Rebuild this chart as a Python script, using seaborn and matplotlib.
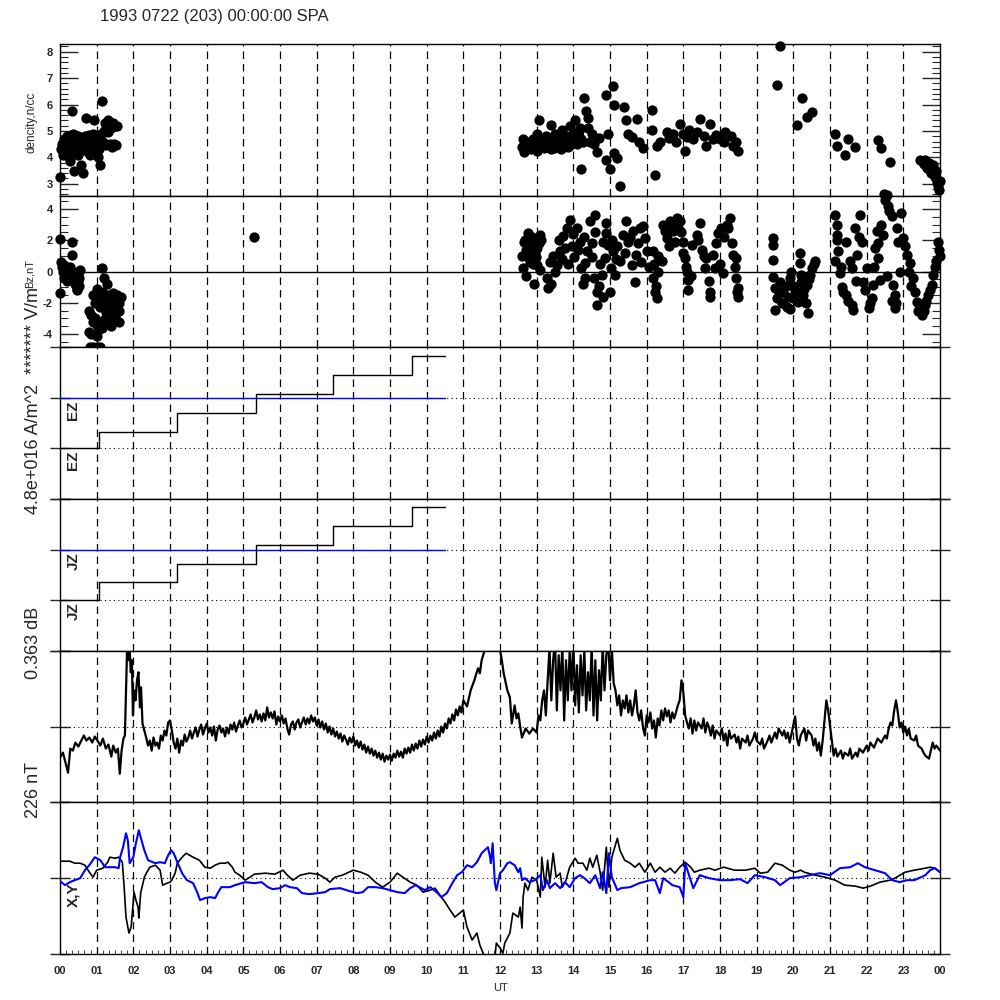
import numpy as np
import matplotlib
matplotlib.use("Agg")
import matplotlib.pyplot as plt
import seaborn as sns
from matplotlib.ticker import MultipleLocator, FixedLocator, NullLocator

sns.set_style("ticks")
plt.rcParams['font.family'] = ['Liberation Sans', 'DejaVu Sans']
plt.rcParams['axes.linewidth'] = 1.0

TITLE = "1993 0722 (203) 00:00:00 SPA"
hour_ticks = list(range(25))
hour_labels = ["%02d" % (h % 24) for h in hour_ticks]

# ---- density (hour, n/cc)
density_pts = [
    (0.00, 3.25), (0.02, 4.3), (0.05, 4.5), (0.08, 4.1), (0.10, 4.7), (0.12, 4.4), (0.15, 4.2),
    (0.18, 4.6), (0.20, 4.8), (0.22, 4.3), (0.25, 4.0), (0.27, 3.85), (0.30, 4.5), (0.33, 5.77),
    (0.35, 4.9), (0.38, 3.47), (0.40, 4.2), (0.42, 4.6), (0.45, 4.35), (0.48, 4.8), (0.50, 4.1),
    (0.52, 4.45), (0.55, 4.25), (0.57, 3.7), (0.60, 4.6), (0.63, 3.4), (0.65, 4.3), (0.68, 4.8),
    (0.71, 5.5), (0.73, 4.5), (0.75, 4.2), (0.78, 4.85), (0.80, 4.4), (0.83, 4.1), (0.85, 4.6),
    (0.88, 4.3), (0.90, 4.9), (0.93, 5.4), (0.95, 4.5), (0.98, 4.2), (1.00, 4.7), (1.03, 4.0),
    (1.06, 4.3), (1.09, 3.7), (1.10, 4.55), (1.12, 4.9), (1.15, 6.15), (1.18, 4.6), (1.20, 5.0),
    (1.22, 5.3), (1.25, 4.45), (1.27, 5.15), (1.30, 4.95), (1.32, 5.4), (1.35, 5.25), (1.37, 4.5),
    (1.40, 5.1), (1.42, 4.4), (1.45, 5.3), (1.47, 4.5), (1.50, 5.2), (1.52, 4.45), (1.55, 5.2),
    (12.60, 4.4), (12.62, 4.7), (12.65, 4.2), (12.70, 4.5), (12.75, 4.35), (12.80, 4.6), (12.85, 4.3),
    (12.90, 4.7), (12.95, 4.45), (13.00, 4.9), (13.02, 4.25), (13.07, 5.43), (13.40, 5.24),
    (13.15, 4.6), (13.20, 4.35), (13.25, 4.8), (13.30, 4.5), (13.35, 4.7), (13.40, 4.3), (13.45, 4.6),
    (13.50, 4.9), (13.55, 4.45), (13.60, 4.75), (13.65, 4.3), (13.70, 5.05), (13.75, 4.55), (13.80, 4.8),
    (13.85, 4.4), (13.90, 5.2), (13.95, 4.6), (14.00, 4.9), (14.05, 5.4), (14.10, 4.5), (14.15, 5.0),
    (14.20, 4.7), (14.30, 6.24), (14.35, 5.75), (14.40, 5.5), (14.20, 3.55), (14.40, 5.1), (14.45, 4.6),
    (14.90, 6.37), (15.07, 6.71), (14.95, 4.9), (14.90, 3.9), (15.00, 3.55), (15.10, 5.98), (15.37, 5.92),
    (15.10, 4.18), (15.18, 3.99), (15.27, 2.92), (15.45, 5.4), (15.73, 5.44), (15.60, 4.76), (15.78, 4.57),
    (15.90, 4.37), (16.14, 5.79), (16.14, 5.02), (16.27, 4.44), (16.23, 3.35), (16.36, 4.6), (16.55, 4.95),
    (16.73, 4.89), (16.90, 5.27), (17.05, 4.25), (17.10, 4.76), (17.27, 4.7), (17.45, 5.47), (17.36, 4.95),
    (17.63, 4.44), (17.73, 5.27), (17.82, 4.7), (18.00, 4.7), (18.15, 4.95), (18.30, 4.82), (18.35, 4.44),
    (18.50, 4.25), (19.55, 6.75), (19.65, 8.23), (20.10, 5.24), (20.24, 6.24), (20.36, 5.53), (20.50, 5.73),
    (21.14, 4.89), (21.18, 4.44), (21.40, 4.08), (21.50, 4.7), (21.68, 4.41), (22.32, 4.67), (22.40, 4.34),
    (22.64, 3.83), (23.45, 3.9), (23.50, 3.85), (23.55, 3.75), (23.60, 3.9), (23.65, 3.6), (23.70, 3.8),
    (23.75, 3.4), (23.80, 3.7), (23.85, 3.25), (23.90, 3.5), (23.95, 2.9), (24.00, 3.1), (23.92, 3.05),
    (23.98, 2.75),
    (12.68, 4.6), (12.78, 4.5), (12.88, 4.55), (13.10, 4.4), (13.18, 4.75), (13.28, 4.4), (13.38, 4.55),
    (13.48, 4.35), (13.58, 4.6), (13.62, 4.9), (13.72, 4.4), (13.82, 4.65), (13.92, 4.45), (14.02, 4.7),
    (14.12, 4.85), (14.18, 5.1), (14.25, 4.6), (14.50, 4.9), (14.55, 4.5), (14.65, 4.2), (14.70, 4.75),
    (15.50, 4.9), (16.60, 4.75), (16.80, 4.6), (17.00, 4.9), (17.15, 5.05), (17.55, 4.8), (17.90, 4.85),
    (18.10, 4.6), (18.45, 4.6),
]

# ---- Bz (hour, nT)
bz_pts = [
    (0.00, 2.1), (0.00, -1.4), (0.33, 1.9), (0.33, 1.06), (0.02, 0.6), (0.05, 0.3), (0.08, 0.0),
    (0.10, -0.4), (0.12, 0.4), (0.15, -0.2), (0.18, 0.2), (0.20, -0.6), (0.22, 0.1), (0.25, -0.3),
    (0.28, 0.3), (0.30, -0.1), (0.35, -0.5), (0.38, 0.0), (0.40, -0.8), (0.42, -0.3), (0.45, -1.1),
    (0.48, -0.6), (0.50, -0.2), (0.53, -0.9), (0.55, 0.1), (0.52, -0.4), (0.47, -1.2),
    (1.14, 0.25), (1.27, -0.8), (1.20, -0.4), (1.00, -1.1), (0.90, -1.5), (0.95, -2.0), (1.05, -1.7),
    (1.10, -2.3), (1.15, -1.3), (1.20, -1.9), (1.25, -2.6), (1.30, -1.5), (1.35, -2.2), (1.40, -1.6),
    (1.45, -1.4), (1.50, -1.8), (1.55, -1.5), (1.60, -2.0), (1.60, -2.5), (1.50, -2.9), (1.45, -3.2),
    (1.40, -3.5), (1.35, -3.0), (1.30, -3.3), (1.25, -2.9), (1.20, -3.1), (1.15, -3.6), (1.10, -3.3),
    (1.05, -3.7), (1.00, -3.4), (0.95, -3.0), (0.90, -3.2), (0.85, -4.0), (0.80, -3.9), (0.78, -2.5),
    (0.85, -2.8), (1.00, -4.1), (0.82, -4.8), (0.90, -4.85), (1.00, -4.8), (1.08, -4.8), (1.65, -1.6),
    (1.60, -3.2), (1.45, -2.5), (5.30, 2.2),
    (12.77, 2.46), (13.09, 2.35), (12.65, 1.9), (12.70, 1.4), (12.75, 0.9), (12.85, 1.6), (12.90, 0.5),
    (12.95, 1.2), (13.00, 0.4), (13.05, 1.8), (13.27, -0.43), (13.30, -1.07), (13.50, 0.0), (13.64, 1.28),
    (13.73, 2.24), (13.90, 3.3), (14.09, 2.8), (14.18, 1.9), (14.36, 1.28), (14.45, 3.2), (14.59, 3.6),
    (14.32, 0.53), (14.32, -0.43), (14.55, -0.43), (14.64, -1.28), (14.64, -2.14), (14.77, -0.2),
    (14.86, 0.85), (14.90, 3.1), (14.90, 2.46), (14.95, 1.7), (15.00, -1.28), (15.04, 0.2), (15.09, 1.28),
    (15.13, -0.2), (15.27, 0.64), (15.36, 2.35), (15.45, 3.2), (15.50, 1.9), (15.63, 2.56), (15.68, -0.64),
    (15.72, 1.07), (15.81, 2.78), (15.95, 2.14), (16.00, 1.28), (16.18, 1.28), (16.18, -0.43),
    (16.23, -1.28), (16.27, -1.7), (16.32, 0.0), (16.41, 0.64), (16.45, 3.0), (16.55, 2.14), (16.64, 3.2),
    (16.73, 2.56), (16.82, 3.4), (16.90, 3.2), (17.00, 1.9), (17.05, 0.85), (17.10, 0.0), (17.14, -0.53),
    (17.14, -1.18), (17.23, 1.7), (17.36, 2.35), (17.45, 3.1), (17.50, 1.39), (17.63, 0.85),
    (17.72, -1.28), (17.72, -1.6), (17.82, 1.07), (17.86, 0.2), (17.95, 2.46), (18.04, 2.78),
    (18.09, -0.1), (18.18, 3.0), (18.27, 3.4), (18.32, 1.8), (18.36, 1.07), (18.45, 0.85), (18.45, -0.43),
    (18.50, -1.07), (18.50, -1.6),
    (19.45, 2.14), (19.45, 1.7), (19.45, 0.75), (19.45, -0.32), (19.50, -1.07), (19.50, -2.46),
    (19.55, -1.7), (19.64, -0.64), (19.73, -1.28), (19.82, -2.24), (19.90, -0.43), (19.95, 0.0),
    (20.04, -1.18), (20.13, -1.92), (20.18, 1.18), (20.18, 0.53), (20.22, -0.64), (20.27, -1.5),
    (20.40, -2.67), (20.45, -0.2), (20.50, 0.2), (20.59, 0.64), (20.36, -0.85), (19.99, -1.7),
    (21.14, 3.6), (21.18, 3.0), (21.18, 2.35), (21.23, 1.28), (21.14, 0.64), (21.27, -0.1),
    (21.32, -0.96), (21.45, -1.5), (21.45, 1.9), (21.54, 0.64), (21.59, -2.14), (21.63, -2.46),
    (21.68, 2.78), (21.73, 1.07), (21.82, 3.6), (21.86, 1.9), (21.91, -0.64), (22.00, 0.2),
    (22.05, -2.35), (22.14, -1.7), (22.18, -0.85), (22.23, 1.5), (22.27, 2.56), (22.32, 0.85),
    (22.36, -0.53), (22.45, 2.35), (22.50, 4.6), (22.59, 4.17), (22.68, 3.53), (22.73, -0.85),
    (22.77, -1.5), (22.77, -2.35), (22.82, 2.78), (22.86, 1.9), (22.90, 0.0), (22.95, 3.74),
    (23.00, 2.14), (23.09, 1.07), (23.18, 0.53), (23.27, -0.43), (23.32, -1.28), (23.36, -1.92),
    (23.45, -2.35), (23.50, -2.78), (23.59, -2.14), (23.68, -1.5), (23.77, -0.85), (23.82, -0.2),
    (23.90, 0.64), (23.95, 1.9), (24.00, 0.96), (22.48, 4.95), (22.55, 4.9),
    (12.60, 1.0), (12.62, 0.2), (12.68, 2.0), (12.72, -0.3), (12.80, 1.2), (12.82, 0.6), (12.88, 2.2),
    (12.92, -0.8), (12.98, 0.9), (13.02, 1.5), (13.08, 0.1), (13.12, 2.0),
    (13.35, 0.6), (13.40, -0.8), (13.45, 1.0), (13.55, 0.4), (13.60, 2.0), (13.68, 0.8), (13.78, 1.5),
    (13.82, 2.8), (13.85, 0.5), (13.95, 1.6), (14.00, 2.4), (14.02, 0.9), (14.12, 1.4), (14.20, 0.2),
    (14.25, -0.8), (14.28, 2.2),
    (14.50, 1.8), (14.52, 0.9), (14.60, 2.5), (14.70, -0.9), (14.72, 0.5), (14.80, 1.9), (14.82, -1.6),
    (15.05, 2.0), (15.15, 0.8), (15.20, 1.6),
    (15.40, 1.2), (15.55, 2.2), (15.60, 0.4), (15.75, 1.8), (15.85, 0.6), (15.90, 2.9), (16.05, 0.3),
    (16.20, 0.5), (16.25, -0.9), (16.30, 1.0), (16.50, 2.6), (16.60, 1.6), (16.70, 2.9), (16.78, 1.9),
    (16.85, 2.8), (16.95, 2.5), (17.00, 1.2), (17.08, 0.3), (17.20, -0.3),
    (17.40, 2.0), (17.55, 1.0), (17.60, 0.2), (17.70, -0.6), (17.90, 1.8), (18.00, 0.5), (18.10, 2.2),
    (18.22, 2.8), (18.40, 0.3), (18.47, -1.3),
    (19.60, -1.3), (19.70, -2.0), (19.80, -0.9), (19.85, -1.6), (19.90, -2.4), (20.00, -0.9),
    (20.10, -1.3), (20.20, -0.2), (20.30, -1.1), (20.35, -2.0), (20.42, -0.5), (20.55, 0.5),
    (21.20, 2.0), (21.30, 0.3), (21.35, -1.3), (21.50, -1.9), (21.60, 0.2), (21.70, -0.6), (21.78, 2.2),
    (21.95, -1.2), (22.10, -2.0), (22.20, 0.3), (22.30, 1.8), (22.40, 3.0), (22.55, -0.3), (22.62, 3.9),
    (22.70, -1.9), (22.80, -2.0), (23.05, 1.6), (23.15, 0.0), (23.22, -0.9), (23.40, -2.5), (23.55, -2.5),
    (23.62, -1.9), (23.72, -1.2), (23.85, 0.3), (23.98, 1.4),
]

# ---- EZ / JZ staircases (hour, level)
ez_hours = [0.0, 1.06, 3.19, 5.35, 7.45, 9.60, 10.50]
ez_vals = [0.0, 0.335, 0.71, 1.085, 1.46, 1.82, 1.82]
jz_hours = [0.0, 1.06, 3.19, 5.35, 7.45, 9.60, 10.50]
jz_vals = [0.0, 0.35, 0.71, 1.10, 1.47, 1.84, 1.84]
ref_hours = [0.0, 10.5]
ref_vals = [1.0, 1.0]

# ---- dB trace (hour, value)
db_trace = [
    (0.00, -31), (0.08, -26), (0.15, -36), (0.22, -46), (0.28, -22), (0.35, -24), (0.42, -16), (0.50, -20),
    (0.58, -14), (0.65, -9), (0.72, -14), (0.80, -11), (0.88, -16), (0.95, -10), (1.02, -14), (1.10, -19),
    (1.17, -12), (1.25, -22), (1.32, -18), (1.40, -30), (1.45, -19), (1.52, -26), (1.58, -22), (1.63, -47),
    (1.68, -24), (1.73, -12), (1.77, -9), (1.80, 36), (1.83, 78), (1.87, 66), (1.90, 78), (1.93, 54),
    (1.96, 66), (1.99, 11), (2.02, 36), (2.06, 26), (2.10, 46), (2.14, 54), (2.18, 19), (2.21, 39),
    (2.25, 3), (2.30, -4), (2.35, -11), (2.40, -19), (2.45, -14), (2.50, -24), (2.55, -11), (2.60, -19),
    (2.65, -16), (2.70, -22), (2.75, -9), (2.80, -14), (2.85, -4), (2.90, -9), (2.95, 4),
    (3.00, 6), (3.05, -4), (3.10, -16), (3.15, -22), (3.20, -12), (3.25, -26), (3.30, -14), (3.35, -19),
    (3.40, -8), (3.45, -15), (3.50, -11), (3.55, -4), (3.60, -12), (3.65, -6), (3.70, -1), (3.75, -10),
    (3.80, -3), (3.85, 2), (3.90, -8), (3.95, -2), (4.00, 3), (4.05, -6), (4.10, -1), (4.15, -9),
    (4.20, 0), (4.25, -14), (4.30, -3), (4.35, 1), (4.40, -6), (4.45, -2), (4.50, -10), (4.55, -1),
    (4.60, -7), (4.65, 2), (4.70, -3), (4.75, 4), (4.80, -5), (4.85, 1), (4.90, 6), (4.95, -1),
    (5.00, 3), (5.05, 9), (5.10, 2), (5.15, 7), (5.20, 12), (5.25, 4), (5.30, 9), (5.35, 16),
    (5.40, 7), (5.45, 12), (5.50, 5), (5.55, 13), (5.60, 6), (5.65, 19), (5.70, 9), (5.75, 14),
    (5.80, 8), (5.85, 15), (5.90, 2), (5.95, 10), (6.00, 5), (6.05, 11), (6.10, 3), (6.15, 8),
    (6.20, -2), (6.25, -8), (6.30, 2), (6.35, 5), (6.40, -3), (6.45, 4), (6.50, 7), (6.55, -1),
    (6.60, 4), (6.65, 9), (6.70, 2), (6.75, 8), (6.80, 3), (6.85, 11), (6.90, 5), (6.95, 9),
    (7.00, 1), (7.05, 7), (7.10, -1), (7.15, 5), (7.20, -3), (7.25, 3), (7.30, -6), (7.35, 0),
    (7.40, -8), (7.45, -2), (7.50, -10), (7.55, -5), (7.60, -12), (7.65, -7), (7.70, -15), (7.75, -9),
    (7.80, -13), (7.85, -18), (7.90, -11), (7.95, -16), (8.00, -10), (8.05, -19), (8.10, -14), (8.15, -21),
    (8.20, -15), (8.25, -23), (8.30, -18), (8.35, -26), (8.40, -20), (8.45, -27), (8.50, -22), (8.55, -29),
    (8.60, -24), (8.65, -31), (8.70, -26), (8.75, -33), (8.80, -27), (8.85, -35), (8.90, -29), (8.95, -33),
    (9.00, -28), (9.05, -34), (9.10, -27), (9.15, -31), (9.20, -24), (9.25, -30), (9.30, -25), (9.35, -31),
    (9.40, -22), (9.45, -27), (9.50, -21), (9.55, -26), (9.60, -18), (9.65, -24), (9.70, -17), (9.75, -22),
    (9.80, -14), (9.85, -20), (9.90, -13), (9.95, -18), (10.00, -10), (10.05, -16), (10.10, -9), (10.15, -14),
    (10.20, -6), (10.25, -12), (10.30, -4), (10.35, -10), (10.40, 0), (10.45, -6), (10.50, 3), (10.55, -2),
    (10.60, 8), (10.65, 3), (10.70, 12), (10.75, 6), (10.80, 17), (10.85, 11), (10.90, 20), (10.95, 14),
    (11.00, 26), (11.10, 20), (11.20, 36), (11.30, 46),
    (11.40, 58), (11.45, 53), (11.50, 66), (11.60, 78), (11.70, 86), (11.80, 81), (11.90, 86), (12.00, 76),
    (12.05, 66), (12.10, 53), (12.20, 36), (12.27, 29), (12.32, 3), (12.40, 21), (12.45, 8), (12.50, 13),
    (12.55, 0), (12.60, -11), (12.70, -2), (12.80, -7), (12.90, -2), (13.00, -6), (13.05, 11), (13.10, 6),
    (13.15, 26), (13.20, 36), (13.25, 11), (13.30, 46), (13.35, 78), (13.40, 26), (13.45, 66), (13.50, 86),
    (13.55, 16), (13.60, 71), (13.65, 36), (13.70, 81), (13.75, 6), (13.80, 66), (13.85, 26), (13.90, 76),
    (13.95, 36), (14.00, 86), (14.05, 21), (14.10, 61), (14.15, 14), (14.20, 71), (14.25, 31), (14.30, 76),
    (14.35, 16), (14.40, 54), (14.45, 26), (14.50, 81), (14.55, 11), (14.60, 66), (14.65, 6), (14.70, 56),
    (14.75, 26), (14.80, 81), (14.85, 36), (14.90, 71), (14.95, 86), (15.00, 46), (15.05, 78), (15.10, 43),
    (15.15, 36), (15.20, 21), (15.25, 31), (15.30, 11), (15.35, 26), (15.40, 18), (15.45, 31), (15.50, 14),
    (15.55, 26), (15.60, 11), (15.65, 21), (15.70, 36), (15.75, 14), (15.80, 6), (15.85, 16), (15.90, -1),
    (15.95, -9), (16.00, 11), (16.05, 4), (16.10, 14), (16.15, -2), (16.20, 6), (16.25, -11), (16.30, 8),
    (16.35, 1), (16.40, 16), (16.45, 6), (16.50, 18), (16.55, 10), (16.60, 16), (16.65, 4), (16.70, 14),
    (16.75, 8), (16.80, 14), (16.85, 21), (16.90, 26), (16.95, 46), (17.00, 34), (17.05, 11), (17.10, 4),
    (17.15, -2), (17.20, 8), (17.25, -7), (17.30, 6), (17.35, -4), (17.40, 4), (17.50, -2), (17.55, 8),
    (17.60, -6), (17.65, 4), (17.70, -1), (17.75, -9), (17.80, 1), (17.85, -12), (17.90, -4), (18.00, -9),
    (18.05, -2), (18.10, -14), (18.15, -7), (18.20, -19), (18.25, -4), (18.30, -12), (18.40, -8), (18.45, -16),
    (18.50, -10), (18.55, -22), (18.60, -12), (18.70, -16), (18.75, -9), (18.80, -19), (18.90, -12), (18.95, -6),
    (19.00, -14), (19.10, -18), (19.15, -12), (19.20, -22), (19.30, -14), (19.35, -9), (19.40, -16), (19.50, -6),
    (19.55, -12), (19.60, -2), (19.70, -9), (19.75, -4), (19.80, -12), (19.85, -6), (19.90, -16), (20.00, 1),
    (20.05, 10), (20.10, -12), (20.15, -19), (20.20, -9), (20.30, -2), (20.35, -14), (20.40, -4), (20.50, -9),
    (20.55, -19), (20.60, -12), (20.65, -24), (20.70, -16), (20.75, -29), (20.80, -14), (20.85, 6), (20.90, 26),
    (20.95, 16), (21.00, 1), (21.05, -14), (21.10, -29), (21.15, -22), (21.20, -30), (21.30, -24), (21.35, -32),
    (21.40, -26), (21.50, -29), (21.55, -22), (21.60, -32), (21.70, -26), (21.75, -30), (21.80, -22), (21.90, -26),
    (22.00, -19), (22.05, -24), (22.10, -16), (22.20, -21), (22.30, -12), (22.40, -16), (22.50, -9), (22.55, -12),
    (22.60, -2), (22.65, 4), (22.70, 1), (22.75, 16), (22.80, 26), (22.85, 14), (22.90, -1), (22.95, 4),
    (23.00, -6), (23.05, 0), (23.10, -9), (23.15, -2), (23.20, -12), (23.30, -14), (23.35, -9), (23.40, -19),
    (23.50, -22), (23.55, -26), (23.60, -29), (23.70, -32), (23.75, -24), (23.80, -16), (23.85, -22), (23.90, -19),
    (24.00, -24),
]

# ---- X component (black) and Y component (blue), (hour, value)
x_trace = [
    (0.00, 17), (0.27, 17), (0.40, 15), (0.55, 15), (0.68, 13), (0.80, 6), (0.90, 1), (1.00, 8),
    (1.17, 10), (1.30, 16), (1.36, 21), (1.50, 20), (1.60, 21), (1.70, 16), (1.75, -9), (1.80, -39),
    (1.88, -55), (1.94, -49), (2.02, -14), (2.07, -22), (2.13, -29), (2.15, -40), (2.20, -15), (2.30, 1),
    (2.37, 6), (2.45, 11), (2.60, 13), (2.73, 8), (2.80, -7), (2.92, -5), (3.00, -4), (3.05, -2),
    (3.14, 5), (3.20, 15), (3.33, 21), (3.44, 25), (3.63, 21), (3.80, 18), (3.95, 11), (4.10, 10),
    (4.23, 13), (4.36, 15), (4.50, 15), (4.58, 16), (4.70, 11), (4.77, 6), (4.90, 3), (5.05, -2),
    (5.18, 1), (5.30, 4), (5.60, 5), (5.86, 4), (6.08, 8), (6.20, 3), (6.35, -2), (6.55, 3),
    (6.80, 5), (7.04, 4), (7.23, 0), (7.36, -4), (7.50, 1), (7.70, 3), (8.00, 8), (8.20, 6),
    (8.40, 3), (8.60, -4), (8.80, -9), (9.00, -4), (9.20, 5), (9.35, 1), (9.55, -4), (9.73, -7),
    (9.90, -14), (10.10, -12), (10.23, -10), (10.36, -17), (10.50, -24), (10.64, -32), (10.77, -39), (10.90, -35),
    (11.00, -32), (11.10, -49), (11.24, -62), (11.37, -55), (11.45, -67), (11.56, -77), (11.86, -80), (11.90, -65),
    (12.00, -70), (12.08, -75), (12.13, -65), (12.27, -55), (12.35, -35), (12.50, -39), (12.55, -29), (12.60, -50),
    (12.63, -19), (12.68, -5), (12.76, -12), (12.87, 1), (13.00, -2), (13.10, -19), (13.14, 21), (13.23, -9),
    (13.30, 18), (13.36, -5), (13.45, 25), (13.53, 1), (13.64, 5), (13.70, -9), (13.80, -2), (13.90, 11),
    (14.05, 20), (14.13, 15), (14.26, 15), (14.37, 8), (14.45, 20), (14.53, 11), (14.64, 23), (14.73, 6),
    (14.80, -12), (14.90, 31), (14.97, -9), (15.05, 21), (15.20, 40), (15.27, 28), (15.40, 18), (15.55, 15),
    (15.68, 11), (15.80, 15), (15.95, 6), (16.10, 15), (16.23, 6), (16.36, 11), (16.50, 6), (16.64, 10),
    (16.77, 5), (16.90, 11), (17.05, 16), (17.20, 11), (17.30, 6), (17.45, 8), (17.70, 10), (17.86, 8),
    (18.10, 11), (18.40, 8), (18.70, 8), (18.95, 10), (19.10, 5), (19.30, 6), (19.50, 15), (19.70, 13),
    (19.90, 8), (20.05, 6), (20.20, 8), (20.30, 6), (20.60, 3), (20.86, 1), (21.14, -2), (21.40, -7),
    (21.70, -8), (21.90, -10), (22.10, -8), (22.36, -4), (22.64, -2), (22.77, 0), (23.05, 6), (23.30, 8),
    (23.60, 10), (23.73, 11), (23.86, 10), (24.00, 6),
]
y_trace = [
    (0.00, -3), (0.14, -7), (0.27, -4), (0.40, -2), (0.55, 0), (0.68, 8), (0.80, 13), (0.95, 21),
    (1.10, 18), (1.23, 11), (1.36, 11), (1.50, 11), (1.60, 10), (1.64, 21), (1.72, 31), (1.80, 45),
    (1.85, 38), (1.90, 15), (2.00, 21), (2.07, 35), (2.15, 48), (2.20, 41), (2.30, 28), (2.40, 18),
    (2.60, 15), (2.73, 16), (2.86, 15), (2.95, 23), (3.03, 28), (3.10, 25), (3.20, 16), (3.33, 5),
    (3.46, -2), (3.63, -5), (3.74, -14), (3.82, -22), (3.95, -20), (4.10, -19), (4.23, -20), (4.30, -15),
    (4.40, -9), (4.64, -9), (4.77, -7), (5.05, -4), (5.30, -5), (5.50, -4), (5.67, -9), (5.80, -11),
    (6.00, -10), (6.14, -7), (6.27, -9), (6.46, -10), (6.60, -15), (6.80, -16), (7.04, -15), (7.23, -14),
    (7.36, -11), (7.64, -10), (7.90, -13), (8.10, -15), (8.26, -14), (8.40, -9), (8.60, -9), (8.80, -10),
    (9.00, -12), (9.20, -14), (9.40, -15), (9.55, -10), (9.70, -7), (9.80, -9), (9.95, -12), (10.10, -9),
    (10.30, -15), (10.40, -19), (10.55, -15), (10.70, -5), (10.83, 3), (10.96, 6), (11.10, 13), (11.24, 11),
    (11.37, 16), (11.50, 25), (11.67, 31), (11.73, 21), (11.75, 15), (11.80, 35), (11.86, -5), (11.90, -12),
    (12.00, 5), (12.08, 8), (12.20, 15), (12.27, 16), (12.40, 13), (12.50, 6), (12.55, 10), (12.60, -2),
    (12.68, 0), (12.80, -4), (12.95, -2), (13.10, 3), (13.17, -12), (13.28, -2), (13.36, -10), (13.50, -5),
    (13.64, -10), (13.77, -4), (13.90, -9), (14.05, 0), (14.18, 3), (14.30, 0), (14.45, -5), (14.60, 3),
    (14.73, -10), (14.80, 6), (14.90, -15), (14.97, 25), (15.05, 1), (15.20, -12), (15.30, -10), (15.55, -9),
    (15.80, -5), (16.10, -2), (16.23, -2), (16.36, -15), (16.45, 0), (16.60, -4), (16.70, -7), (16.90, -9),
    (17.00, -19), (17.05, 15), (17.20, -2), (17.27, -10), (17.45, 3), (17.70, 0), (18.00, -2), (18.27, -2),
    (18.55, -1), (18.75, -5), (18.95, 3), (19.23, 1), (19.50, -2), (19.64, -7), (19.90, 0), (20.20, 1),
    (20.45, 3), (20.73, 5), (21.00, 3), (21.27, 10), (21.55, 11), (21.76, 15), (21.95, 11), (22.23, 8),
    (22.50, 5), (22.70, -2), (22.90, -4), (23.10, -2), (23.30, -2), (23.60, 3), (23.73, 8), (23.86, 10),
    (24.00, 6),
]

# ------------------------------------------------------------------ figure
fig = plt.figure(figsize=(10, 10), dpi=100)
L, W = 0.06, 0.88
B0, H = 0.046, 0.91 / 6
axes = [fig.add_axes([L, B0 + (5 - i) * H, W, H]) for i in range(6)]
ax1, ax2, ax3, ax4, ax5, ax6 = axes

dash = (0, (6, 4))
dots = (0, (1, 3))

for ax in axes:
    ax.set_xlim(0, 24)
    for h in range(1, 24):
        ax.axvline(h, color='black', lw=0.9, ls=dash, zorder=1)
    ax.xaxis.set_major_locator(NullLocator())
    ax.xaxis.set_minor_locator(NullLocator())
    for s in ax.spines.values():
        s.set_color('black')
        s.set_linewidth(1.0)

# Panel 1: density
d = np.array(density_pts)
sns.scatterplot(x=d[:, 0], y=d[:, 1], ax=ax1, color='black', s=55, linewidth=0,
                legend=False, clip_on=False, zorder=3)
ax1.set_ylim(2.55, 8.29)
ax1.yaxis.set_minor_locator(MultipleLocator(0.2))

# Panel 2: Bz
b = np.array(bz_pts)
sns.scatterplot(x=b[:, 0], y=b[:, 1], ax=ax2, color='black', s=55, linewidth=0,
                legend=False, clip_on=False, zorder=3)
ax2.axhline(0, color='black', lw=1.0, zorder=2)
ax2.set_ylim(-4.85, 4.85)
ax2.yaxis.set_minor_locator(MultipleLocator(0.5))

ax1.set_yticks([3, 4, 5, 6, 7, 8])
ax1.set_yticklabels(['3', '4', '5', '6', '7', '8'], fontweight='bold', fontsize=8)
ax2.set_yticks([-4, -2, 0, 2, 4])
ax2.set_yticklabels(['-4', '-2', '0', '2', '4'], fontweight='bold', fontsize=8)
for ax in (ax1, ax2):
    ax.tick_params(axis='y', which='major', direction='in', length=13, width=1,
                   left=True, right=True, pad=5)
    ax.tick_params(axis='y', which='minor', direction='in', length=6, width=0.8,
                   left=True, right=True)

# Panels 3 & 4: staircases
for ax, hrs, vals in ((ax3, ez_hours, ez_vals), (ax4, jz_hours, jz_vals)):
    ax.axhline(0, color='black', lw=0.8, ls=dots, zorder=2)
    ax.axhline(1, color='black', lw=0.8, ls=dots, zorder=2)
    sns.lineplot(x=ref_hours, y=ref_vals, ax=ax, color='blue', lw=1.0,
                 estimator=None, sort=False, legend=False, zorder=3)
    sns.lineplot(x=hrs, y=vals, ax=ax, color='black', lw=1.0, drawstyle='steps-post',
                 estimator=None, sort=False, legend=False, zorder=4)
    ax.set_ylim(-1, 2)
    ax.yaxis.set_major_locator(FixedLocator([-1, 0, 1, 2]))

# Panel 5: dB
db = np.array(db_trace)
ax5.axhline(0, color='black', lw=0.8, ls=dots, zorder=2)
sns.lineplot(x=db[:, 0], y=db[:, 1], ax=ax5, color='black', lw=1.6,
             estimator=None, sort=False, legend=False, zorder=3)
ax5.set_ylim(-75.5, 75.5)
ax5.yaxis.set_major_locator(FixedLocator([-75.5, 0, 75.5]))

# Panel 6: X, Y
xt = np.array(x_trace)
yt = np.array(y_trace)
ax6.axhline(0, color='black', lw=0.8, ls=dots, zorder=2)
sns.lineplot(x=xt[:, 0], y=xt[:, 1], ax=ax6, color='black', lw=1.2,
             estimator=None, sort=False, legend=False, zorder=3)
sns.lineplot(x=yt[:, 0], y=yt[:, 1], ax=ax6, color='blue', lw=1.5,
             estimator=None, sort=False, legend=False, zorder=4)
ax6.set_ylim(-76, 76)
ax6.yaxis.set_major_locator(FixedLocator([-76, 0, 76]))

for ax in (ax3, ax4, ax5, ax6):
    ax.yaxis.set_minor_locator(NullLocator())
    ax.tick_params(axis='y', which='major', direction='inout', length=14, width=1,
                   left=True, right=True, labelleft=False)

for ax in axes:
    ax.set_xlabel('')
    ax.set_ylabel('')

# bottom time axis
ax6.set_xticks(hour_ticks)
ax6.set_xticklabels(hour_labels, fontsize=8, fontweight='bold')
ax6.xaxis.set_minor_locator(MultipleLocator(1 / 6))
ax6.tick_params(axis='x', which='major', direction='in', length=3, pad=9, bottom=True, top=False)
ax6.tick_params(axis='x', which='minor', direction='in', length=3, bottom=True, top=False)
ax6.set_xlim(0, 24)

# ------------------------------------------------------------------ texts
def px(x, y):
    return x / 1000.0, 1 - y / 1000.0

fig.text(*px(100, 16), TITLE, fontsize=12, ha='left', va='center')
fig.text(*px(500, 988), 'UT', fontsize=8, ha='center', va='center')
fig.text(*px(31.5, 122), 'dencity,n/cc', fontsize=8.5, rotation=90, ha='center', va='center')
fig.text(*px(30, 273), 'Bz,nT', fontsize=8, rotation=90, ha='center', va='center')
fig.text(*px(34, 401), '4.8e+016 A/m^2  ******* V/m', fontsize=13, rotation=90,
         ha='center', va='center')
fig.text(*px(34, 643), '0.363 dB', fontsize=13, rotation=90, ha='center', va='center')
fig.text(*px(34, 790), '226 nT', fontsize=13, rotation=90, ha='center', va='center')

for lab, y in (('EZ', 400), ('EZ', 450), ('JZ', 552), ('JZ', 602), ('X,Y', 882)):
    fig.text(*px(73.5, y), lab, fontsize=11, fontweight='bold', rotation=90,
             ha='center', va='top')

fig.savefig('out.png', dpi=100)
